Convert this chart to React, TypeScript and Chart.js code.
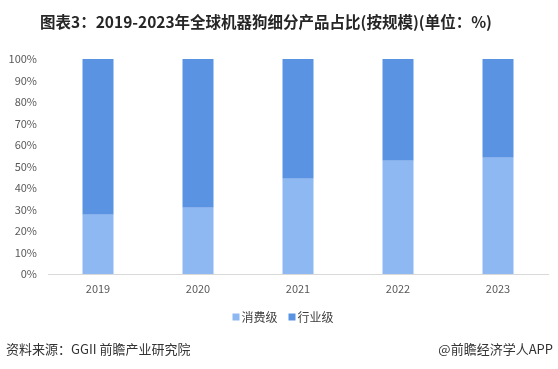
import React, { useEffect, useRef } from "react";
import { Chart, registerables } from "chart.js";

Chart.register(...registerables);

const years = ["2019", "2020", "2021", "2022", "2023"];
const consumerShare = [27.6, 30.8, 44.3, 52.7, 54.1];
const industryShare = [72.4, 69.2, 55.7, 47.3, 45.9];
const seriesNames = ["消费级", "行业级"];
const seriesColors = ["#8EB8F2", "#5B93E3"];
const titleText = "图表3：2019-2023年全球机器狗细分产品占比(按规模)(单位：%)";
const sourceText = "资料来源：GGII 前瞻产业研究院";
const brandText = "@前瞻经济学人APP";

const FONT = "'Noto Sans CJK SC', 'Noto Sans', sans-serif";

const textPlugin = {
  id: "textPlugin",
  afterDraw(chart: any) {
    const ctx = chart.ctx;
    ctx.save();
    ctx.fillStyle = "#262626";
    ctx.font = `bold 15.5px ${FONT}`;
    ctx.textAlign = "center";
    ctx.textBaseline = "middle";
    ctx.fillText(titleText, 266, 22);

    // legend
    ctx.font = `12px ${FONT}`;
    ctx.textAlign = "left";
    const legendY = 317;
    const gap = 2;
    const itemGap = 11;
    const box = 7;
    const widths = chart.data.datasets.map((d: any) => box + gap + ctx.measureText(d.label).width);
    const total = widths.reduce((a: number, b: number) => a + b, 0) + itemGap * (widths.length - 1);
    let x = 283 - total / 2;
    chart.data.datasets.forEach((d: any, i: number) => {
      ctx.fillStyle = d.backgroundColor;
      ctx.fillRect(x, legendY - box / 2, box, box);
      ctx.fillStyle = "#404040";
      ctx.fillText(d.label, x + box + gap, legendY);
      x += widths[i] + itemGap;
    });

    ctx.font = `13px ${FONT}`;
    ctx.fillStyle = "#333333";
    ctx.textAlign = "left";
    ctx.fillText(sourceText, 6, 349);
    ctx.textAlign = "right";
    ctx.fillText(brandText, 553, 349);
    ctx.restore();
  },
};

export default function App() {
  const ref = useRef<HTMLCanvasElement>(null);
  useEffect(() => {
    const chart = new Chart(ref.current!, {
      type: "bar",
      data: {
        labels: years,
        datasets: [
          {
            label: seriesNames[0],
            data: consumerShare,
            backgroundColor: seriesColors[0],
            barPercentage: 0.31,
            categoryPercentage: 1,
          },
          {
            label: seriesNames[1],
            data: industryShare,
            backgroundColor: seriesColors[1],
            barPercentage: 0.31,
            categoryPercentage: 1,
          },
        ],
      },
      options: {
        responsive: false,
        animation: false,
        layout: { padding: { top: 59, left: 0, right: 10, bottom: 68 } },
        plugins: {
          legend: { display: false },
          tooltip: { enabled: false },
        },
        scales: {
          x: {
            stacked: true,
            grid: { display: false },
            border: { color: "#D9D9D9" },
            ticks: { color: "#595959", font: { size: 11, family: FONT }, padding: 0 },
            afterFit: (s: any) => {
              s.height = 27;
            },
          },
          y: {
            stacked: true,
            min: 0,
            max: 100,
            grid: { display: false },
            border: { display: false },
            ticks: {
              stepSize: 10,
              color: "#595959",
              font: { size: 11, family: FONT },
              padding: 3,
              callback: (v: any) => v + "%",
            },
            afterFit: (s: any) => {
              s.width = 48;
            },
          },
        },
      },
      plugins: [textPlugin],
    });
    return () => chart.destroy();
  }, []);
  return (
    <div style={{ position: "absolute", left: 0, top: 0, width: 558, height: 369, background: "#fff" }}>
      <canvas ref={ref} width={558} height={369} />
    </div>
  );
}
